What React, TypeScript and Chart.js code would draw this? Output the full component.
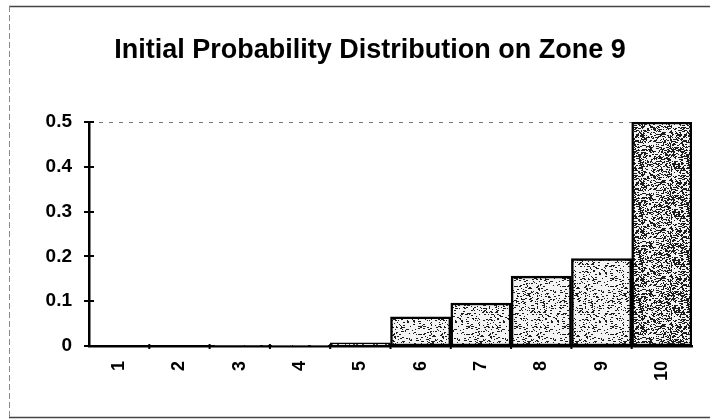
import React, { useEffect, useRef } from "react";
import { Chart, registerables } from "chart.js";
Chart.register(...registerables);

const categories = ["1", "2", "3", "4", "5", "6", "7", "8", "9", "10"];
const probabilities = [0, 0, 0.0005, 0.001, 0.007, 0.065, 0.096, 0.156, 0.195, 0.5];
const yTickValues = [0, 0.1, 0.2, 0.3, 0.4, 0.5];
const titleText = "Initial Probability Distribution on Zone 9";

const FONT = "'Liberation Sans', Arial, Helvetica, sans-serif";

function makeTile(density: number): HTMLCanvasElement {
  const S = 48;
  const c = document.createElement("canvas");
  c.width = S;
  c.height = S;
  const g = c.getContext("2d")!;
  g.fillStyle = "#f3f3f3";
  g.fillRect(0, 0, S, S);
  g.fillStyle = "#1c1c1c";
  for (let y = 0; y < S; y++) {
    for (let x = 0; x < S; x++) {
      const h = Math.abs(Math.sin(x * 12.9898 + y * 78.233) * 43758.5453) % 1;
      if (h < density) g.fillRect(x, y, h < density * 0.45 ? 2 : 1, 1);
    }
  }
  return c;
}

const decor = {
  id: "decor",
  beforeDraw(chart: any) {
    const ctx = chart.ctx;
    ctx.save();
    ctx.fillStyle = "#ffffff";
    ctx.fillRect(0, 0, chart.width, chart.height);
    ctx.strokeStyle = "#444";
    ctx.lineWidth = 1.5;
    ctx.beginPath();
    ctx.moveTo(9, 6.5);
    ctx.lineTo(chart.width, 6.5);
    ctx.moveTo(9, 417.5);
    ctx.lineTo(chart.width, 417.5);
    ctx.stroke();
    ctx.strokeStyle = "#888";
    ctx.lineWidth = 1;
    ctx.setLineDash([6, 3]);
    ctx.beginPath();
    ctx.moveTo(9.5, 6);
    ctx.lineTo(9.5, 418);
    ctx.stroke();
    ctx.restore();
  },
  beforeDatasetsDraw(chart: any) {
    const { ctx, chartArea } = chart;
    const y = chart.scales.y;
    const top = y.getPixelForValue(yTickValues[yTickValues.length - 1]);
    ctx.save();
    ctx.strokeStyle = "#777";
    ctx.lineWidth = 1;
    ctx.setLineDash([4, 6]);
    ctx.beginPath();
    ctx.moveTo(chartArea.left, top + 0.5);
    ctx.lineTo(chartArea.right, top + 0.5);
    ctx.stroke();
    ctx.restore();
  },
  afterDraw(chart: any) {
    const { ctx, chartArea } = chart;
    const y = chart.scales.y;
    const x = chart.scales.x;
    ctx.save();
    ctx.strokeStyle = "#000";
    ctx.lineWidth = 2;
    ctx.beginPath();
    for (const v of yTickValues) {
      const py = Math.round(y.getPixelForValue(v));
      ctx.moveTo(chartArea.left - 5, py);
      ctx.lineTo(chartArea.left + 5, py);
    }
    const bottom = y.getPixelForValue(0);
    for (let i = 1; i < categories.length; i++) {
      const px = (x.getPixelForValue(i - 1) + x.getPixelForValue(i)) / 2;
      ctx.moveTo(px, bottom - 2);
      ctx.lineTo(px, bottom + 3);
    }
    ctx.stroke();
    // title
    ctx.fillStyle = "#000";
    ctx.font = `bold 27px ${FONT}`;
    ctx.textAlign = "center";
    ctx.textBaseline = "alphabetic";
    ctx.fillText(titleText, 370, 58);
    ctx.restore();
  },
};

export default function App() {
  const ref = useRef<HTMLCanvasElement | null>(null);
  useEffect(() => {
    const canvas = ref.current!;
    const ctx = canvas.getContext("2d")!;
    const light = ctx.createPattern(makeTile(0.13), "repeat");
    const dark = ctx.createPattern(makeTile(0.32), "repeat");
    const fills = probabilities.map((v, i) => (i === probabilities.length - 1 ? dark : light));
    const chart = new Chart(canvas, {
      type: "bar",
      data: {
        labels: categories,
        datasets: [
          {
            data: probabilities,
            backgroundColor: fills as any,
            borderColor: "#000",
            borderWidth: 2.5,
            borderSkipped: false,
            barPercentage: 1,
            categoryPercentage: 1,
          },
        ],
      },
      options: {
        responsive: false,
        animation: false,
        devicePixelRatio: 1,
        layout: { padding: { left: 0, right: 18, top: 122, bottom: 0 } },
        plugins: {
          legend: { display: false },
          tooltip: { enabled: false },
          title: { display: false },
        },
        scales: {
          x: {
            grid: { display: false, drawTicks: false },
            border: { display: true, color: "#000", width: 2.5 },
            ticks: {
              color: "#000",
              font: { family: FONT, size: 18, weight: "bold" },
              minRotation: 90,
              maxRotation: 90,
              padding: 15,
              autoSkip: false,
            },
            afterFit: (s: any) => {
              s.height = 73;
            },
          },
          y: {
            min: 0,
            max: 0.5,
            grid: { display: false, drawTicks: false },
            border: { display: true, color: "#000", width: 2.5 },
            ticks: {
              stepSize: 0.1,
              color: "#000",
              padding: 17,
              font: { family: FONT, size: 19, weight: "bold" },
              callback: (v: any) => {
                const n = Math.round(Number(v) * 10) / 10;
                return n === 0 ? "0" : String(n);
              },
            },
            afterFit: (s: any) => {
              s.width = 89;
            },
          },
        },
      },
      plugins: [decor],
    });
    return () => chart.destroy();
  }, []);
  return (
    <div style={{ position: "absolute", left: 0, top: 0, width: 710, height: 419 }}>
      <canvas ref={ref} width={710} height={419} />
    </div>
  );
}
